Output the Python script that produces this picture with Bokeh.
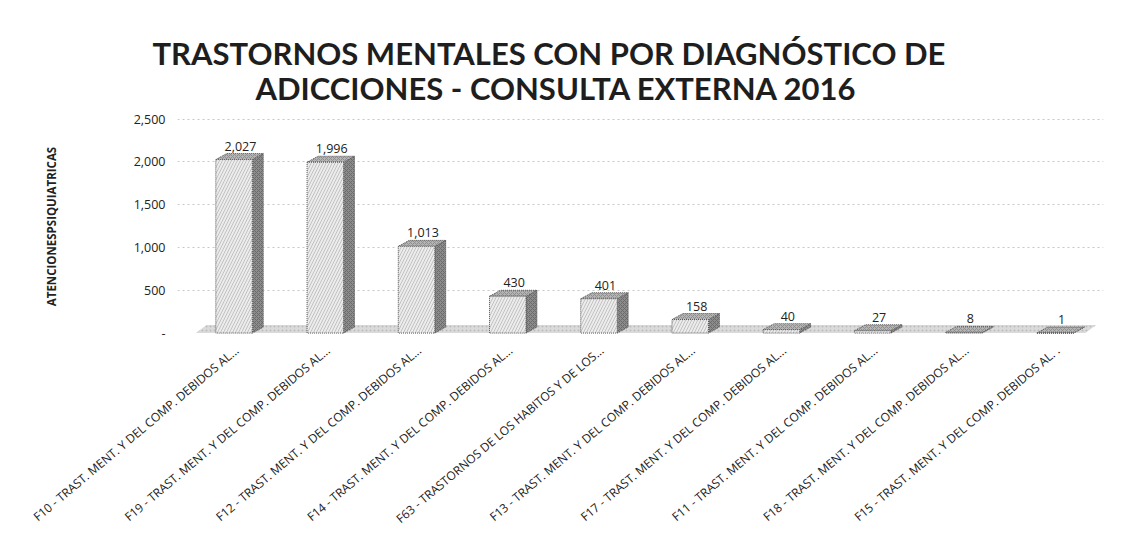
import numpy as np
from bokeh.plotting import figure
from bokeh.models import Range1d, FixedTicker, NumeralTickFormatter, Title, ColumnDataSource
from bokeh.core.properties import value
from bokeh.embed import file_html
from bokeh.resources import INLINE

categories = [
    "F10 - TRAST. MENT. Y DEL COMP. DEBIDOS AL...",
    "F19 - TRAST. MENT. Y DEL COMP. DEBIDOS AL...",
    "F12 - TRAST. MENT. Y DEL COMP. DEBIDOS AL...",
    "F14 - TRAST. MENT. Y DEL COMP. DEBIDOS AL...",
    "F63 - TRASTORNOS DE LOS HABITOS Y DE LOS...",
    "F13 - TRAST. MENT. Y DEL COMP. DEBIDOS AL...",
    "F17 - TRAST. MENT. Y DEL COMP. DEBIDOS AL...",
    "F11 - TRAST. MENT. Y DEL COMP. DEBIDOS AL...",
    "F18 - TRAST. MENT. Y DEL COMP. DEBIDOS AL...",
    "F15 - TRAST. MENT. Y DEL COMP. DEBIDOS AL. .",
]
values = [2027, 1996, 1013, 430, 401, 158, 40, 27, 8, 1]
value_labels = ["2,027", "1,996", "1,013", "430", "401", "158", "40", "27", "8", "1"]
y_ticks = [0, 500, 1000, 1500, 2000, 2500]
title_line1 = "TRASTORNOS MENTALES CON POR DIAGNÓSTICO  DE"
title_line2 = "ADICCIONES - CONSULTA EXTERNA 2016"
y_title = "ATENCIONESPSIQUIATRICAS"

FONT = "Open Sans"
TFONT = "Lato"

x = np.arange(len(values), dtype=float)
v = np.array(values, dtype=float)

# 3D-like geometry (style offsets)
fl, fr, sr = -0.23, 0.17, 0.29   # front left, front right, side right (x offsets)
dy = 70.0                         # depth rise in value units

p = figure(width=1130, height=540, output_backend="svg", toolbar_location=None,
           title=None,
           x_range=Range1d(-0.65, 9.5), y_range=Range1d(-40, 2530),
           min_border_left=177, min_border_right=27,
           min_border_top=116, min_border_bottom=204)
p.outline_line_color = None
p.background_fill_color = "white"
p.border_fill_color = "white"

t2 = Title(text=title_line2, text_font=TFONT, text_font_size="31px",
           text_font_style="bold", align="left", offset=78, text_color="#1e1e1e",
           standoff=20, text_line_height=0.9)
t1 = Title(text=title_line1, text_font=TFONT, text_font_size="31px",
           text_font_style="bold", align="left", offset=-25, text_color="#1e1e1e",
           standoff=-30, text_line_height=0.9)
p.add_layout(t2, "above")
p.add_layout(t1, "above")

# floor
p.patch(x=[-0.45, 9.3, 9.42, -0.33], y=[0, 0, 95, 95],
        fill_color="#dadada", line_color=None,
        hatch_pattern=".", hatch_color="#bcbcbc", hatch_scale=4)

# side faces
side_xs = [[xi + fr, xi + sr, xi + sr, xi + fr] for xi in x]
side_ys = [[0, dy, vi + dy, vi] for vi in v]
p.patches(xs=side_xs, ys=side_ys, fill_color="#8c8c8c", line_color="#555555",
          line_dash="1 1", line_width=1,
          hatch_pattern="x", hatch_color="#6a6a6a", hatch_scale=4)

# top faces
top_xs = [[xi + fl, xi + fr, xi + sr, xi + fl + (sr - fr)] for xi in x]
top_ys = [[vi, vi, vi + dy, vi + dy] for vi in v]
p.patches(xs=top_xs, ys=top_ys, fill_color="#b4b4b4", line_color="#555555",
          line_dash="1 1", line_width=1,
          hatch_pattern="x", hatch_color="#8f8f8f", hatch_scale=4)

# front faces
src = ColumnDataSource(dict(x=x, v=v, lab=value_labels,
                            left=x + fl, right=x + fr, lx=x + 0.04, ly=v + dy))
p.quad(left="left", right="right", bottom=0, top="v", source=src,
       fill_color="#ececec", line_color="#555555", line_dash="1 1", line_width=1,
       hatch_pattern="/", hatch_color="#c2c2c2", hatch_scale=6)

p.text(x="lx", y="ly", text="lab", source=src, text_align="center",
       text_baseline="bottom", y_offset=-3, text_font=value(FONT),
       text_font_size="12.5px", text_color="#222222")

# axes
p.yaxis.ticker = FixedTicker(ticks=y_ticks)
p.yaxis.formatter = NumeralTickFormatter(format="0,0")
p.yaxis.major_label_overrides = {0: "-"}
p.yaxis.axis_line_color = None
p.yaxis.major_tick_line_color = None
p.yaxis.minor_tick_line_color = None
p.yaxis.major_label_text_font = FONT
p.yaxis.major_label_text_font_size = "12.5px"
p.yaxis.major_label_text_color = "#222222"
p.yaxis.major_label_standoff = 6
p.yaxis.axis_label = y_title
p.yaxis.axis_label_text_font = FONT
p.yaxis.axis_label_text_font_size = "11.5px"
p.yaxis.axis_label_text_font_style = "bold"
p.yaxis.axis_label_text_color = "#222222"
p.yaxis.axis_label_standoff = 72

p.xaxis.ticker = FixedTicker(ticks=list(range(len(categories))))
p.xaxis.major_label_overrides = {i: c for i, c in enumerate(categories)}
p.xaxis.major_label_orientation = 0.70
p.xaxis.axis_line_color = None
p.xaxis.major_tick_line_color = None
p.xaxis.minor_tick_line_color = None
p.xaxis.major_label_text_font = FONT
p.xaxis.major_label_text_font_size = "12px"
p.xaxis.major_label_text_color = "#222222"
p.xaxis.major_label_standoff = 6

p.xgrid.grid_line_color = None
p.ygrid.ticker = FixedTicker(ticks=y_ticks[1:])
p.ygrid.grid_line_color = "#c8c8c8"
p.ygrid.grid_line_dash = "2 3"

open("out.html", "w").write(file_html(p, INLINE))
